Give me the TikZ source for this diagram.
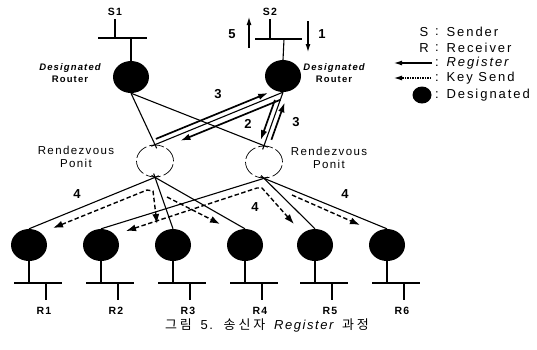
\documentclass[tikz,border=0pt]{standalone}
\usepackage{fontspec}
\setmainfont{Liberation Sans}[LetterSpace=12]
\newfontfamily\kr{Noto Sans CJK KR}[LetterSpace=22]
\newfontfamily\legfont{Liberation Sans}[LetterSpace=15]
\usetikzlibrary{shapes.geometric,arrows.meta,calc}
\begin{document}
\begin{tikzpicture}[x=1pt,y=-1pt,
  dr/.style={ellipse,fill=black,inner sep=0pt,minimum width=36pt,minimum height=32pt},
  rpnode/.style={ellipse,draw,line width=0.7pt,dash pattern=on 15pt off 3pt,inner sep=0pt,minimum width=37pt,minimum height=32pt},
  tree/.style={line width=1.1pt},
  bar/.style={line width=1.1pt},
  reg/.style={line width=1.7pt,-{Latex[length=10pt,width=6.5pt]}},
  keyboth/.style={line width=1.4pt,dash pattern=on 4.5pt off 2.5pt,{Latex[length=10pt,width=7pt]}-{Latex[length=10pt,width=7pt]}},
  keyarr/.style={line width=1.4pt,dash pattern=on 4.5pt off 2.5pt,-{Latex[length=10pt,width=7pt]}},
  small/.style={line width=1.1pt,-{Latex[length=8pt,width=5pt]}},
  num/.style={font=\fontsize{13}{13}\selectfont\bfseries},
  lbl/.style={font=\fontsize{9.5}{12}\selectfont\bfseries},
  rlab/.style={font=\fontsize{10.5}{12}\selectfont\bfseries},
  rlbl/.style={font=\fontsize{11.5}{13}\selectfont},
  leg/.style={font=\fontsize{13}{13}\selectfont\legfont}
]
\path[use as bounding box] (0,0) rectangle (537,349);

% routers
\node[dr] (dr1) at (131,77) {};
\node[dr] (dr2) at (283,76) {};
\node[rpnode] (rp1) at (155,161) {};
\node[rpnode] (rp2) at (264,162) {};
\foreach \i/\x in {1/29,2/101,3/173,4/245,5/315,6/387}{
  \node[dr] (r\i) at (\x,245) {};
  \draw[bar] (r\i.south) -- (\x,283);
  \draw[bar] (\x-15,283) -- (\x+33,283);
  \draw[bar] (\x+17,283) -- (\x+17,300);
  \node[rlab] (rl\i) at (\x+15,311) {R\i};
}

% senders
\node[rlab] (s1) at (115,12) {S1};
\coordinate (b1) at (131,38);
\draw[bar] (s1.south) -- (s1.south |- b1);
\draw[bar] (98,38) -- (147,38);
\draw[bar] (b1) -- (dr1.north);
\node[rlab] (s2) at (270,12) {S2};
\coordinate (b2) at (284,39);
\draw[bar] (s2.south) -- (s2.south |- b2);
\draw[bar] (255,39) -- (302,39);
\draw[bar] (b2) -- (dr2.north);

\coordinate (a5s) at (249,48); \coordinate (a5e) at (249,17);
\draw[small] (a5s) -- (a5e);
\node[num] (n5) at (232,34) {5};
\coordinate (a1s) at (308,21); \coordinate (a1e) at (308,52);
\draw[small] (a1s) -- (a1e);
\node[num] (n1) at (322,34) {1};

% labels
\node[lbl,align=center] (dl1) at (70,73) {\itshape Designated\\Router};
\node[lbl,align=center] (dl2) at (334,73) {\itshape Designated\\Router};
\node[rlbl,align=center] (rpl1) at (76,157) {Rendezvous\\Ponit};
\node[rlbl,align=center] (rpl2) at (329,158) {Rendezvous\\Ponit};

% tree lines
\draw[tree] ($(rp1.north)!-4pt!(dr1.south)$) -- (dr1.south);
\draw[tree] ($(rp2.north)!-4pt!(dr1.south)$) -- (dr1.south);
\draw[tree] ($(rp1.north)!-4pt!(dr2.south)$) -- (dr2.south);
\draw[tree] ($(rp2.north)!-4pt!(dr2.south)$) -- (dr2.south);
\foreach \t in {1,3,4} \draw[tree] ($(rp1.south)!-4pt!(r\t.north)$) -- (r\t.north);
\foreach \t in {2,5,6} \draw[tree] ($(rp2.south)!-4pt!(r\t.north)$) -- (r\t.north);

% register arrows
\draw[reg,shorten <=3pt,shorten >=14pt] ($(rp1.north)!5pt!90:(dr2.south)$) -- ($(dr2.south)!5pt!-90:(rp1.north)$);
\draw[reg,shorten <=5pt,shorten >=25pt] ($(dr2.south)!6pt!90:(rp1.north)$) -- ($(rp1.north)!6pt!-90:(dr2.south)$);
\draw[reg,shorten <=10pt,shorten >=4pt] ($(dr2.south)!5pt!-90:(rp2.north)$) -- ($(rp2.north)!5pt!90:(dr2.south)$);
\draw[reg,shorten <=8pt,shorten >=9pt] ($(rp2.north)!5pt!-90:(dr2.south)$) -- ($(dr2.south)!5pt!90:(rp2.north)$);
\node[num] (n3a) at (218,94) {3};
\node[num] (n2) at (248,124) {2};
\node[num] (n3b) at (296,122) {3};

% key send arrows
\coordinate (k1) at (147,190); \coordinate (k1b) at (153,191);
\coordinate (e1) at (53,228); \coordinate (e3) at (157,224);
\draw[keyboth] (e1) -- (k1) -- (k1b) -- (e3);
\coordinate (k2) at (167,197); \coordinate (e4) at (220,224);
\draw[keyarr] (k2) -- (e4);
\coordinate (k3) at (257,188); \coordinate (k3b) at (262,188);
\coordinate (e2) at (126,231); \coordinate (e5) at (294,224);
\draw[keyboth] (e2) -- (k3) -- (k3b) -- (e5);
\coordinate (k4) at (292,195); \coordinate (e6) at (360,225);
\draw[keyarr] (k4) -- (e6);
\node[num] (n4a) at (77,194) {4};
\node[num] (n4b) at (255,207) {4};
\node[num] (n4c) at (345,194) {4};

% legend
\node[leg] (ls) at (424,32) {S};
\node[leg] (lsc) at (437,32) {:};
\node[leg,anchor=west] (lst) at (443,32) {Sender};
\node[leg] (lr) at (424,48) {R};
\node[leg] (lrc) at (437,48) {:};
\node[leg,anchor=west] (lrt) at (443,48) {Receiver};
\coordinate (lg1) at (432,63); \coordinate (lg2) at (394,63);
\draw[small] (lg1) -- (lg2);
\node[leg] (lgc) at (437,63) {:};
\node[leg,anchor=west] (lgt) at (443,63) {\itshape Register};
\coordinate (lk1) at (431,78); \coordinate (lk2) at (394,78);
\draw[small,dash pattern=on 1.5pt off 1pt] (lk1) -- (lk2);
\node[leg] (lkc) at (437,78) {:};
\node[leg,anchor=west] (lkt) at (443,78) {Key Send};
\node[ellipse,fill=black,inner sep=0pt,minimum width=19pt,minimum height=17pt] (ld) at (422,95) {};
\node[leg] (ldc) at (437,95) {:};
\node[leg,anchor=west] (ldt) at (443,95) {Designated};

% caption
\node[font=\fontsize{13}{13}\selectfont] (cap) at (267,325) {\kr 그림\hspace{3pt} {\rmfamily 5.}\hspace{3pt} 송신자\hspace{3pt} {\rmfamily\itshape Register}\hspace{3pt} 과정};
\end{tikzpicture}
\end{document}
